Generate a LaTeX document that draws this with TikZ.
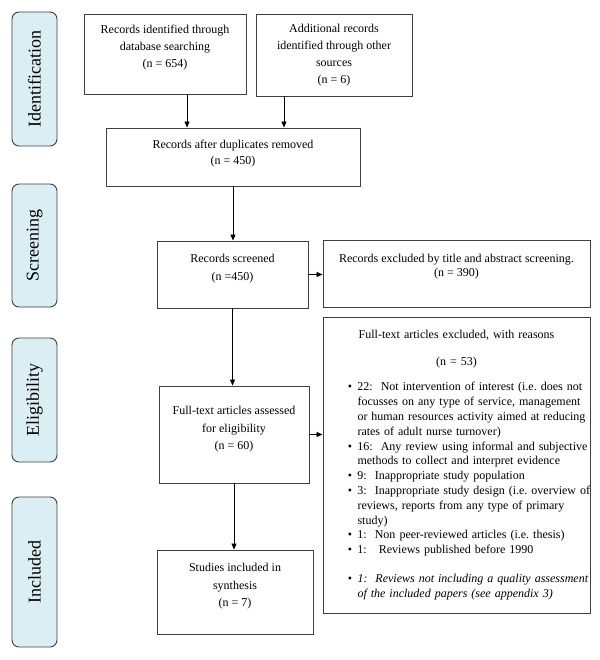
\documentclass[tikz,border=0pt]{standalone}
\usepackage{fontspec}
\setmainfont{Liberation Serif}
\usetikzlibrary{arrows.meta}
\definecolor{edgegray}{HTML}{3F3F3F}
\definecolor{sidefill}{HTML}{DBEEF4}
\newcommand\pbul{\leavevmode\llap{\textbullet\hspace{5.5bp}}}
\begin{document}
\begin{tikzpicture}[x=1bp,y=-1bp,
  box/.style={draw=edgegray, line width=0.9bp, align=center, inner sep=0pt, font=\fontsize{12bp}{17bp}\selectfont},
  side/.style={draw=edgegray, fill=sidefill, rounded corners=7bp, line width=0.9bp, rotate=90, inner sep=0pt, minimum height=45bp, font=\fontsize{18bp}{20bp}\selectfont},
  arr/.style={line width=0.8bp, -{Triangle[length=6bp,width=5bp]}}
]
\useasboundingbox (0,0) rectangle (600,660);
\path[fill=white] (0,0) rectangle (600,660);

% stage labels
\node[side, minimum width=134bp] (sid) at (34.5,79) {Identification};
\node[side, minimum width=123bp] (sscr) at (34.5,245.5) {Screening};
\node[side, minimum width=124bp] (selig) at (34.5,400) {Eligibility};
\node[side, minimum width=150bp] (sinc) at (34.5,572) {Included};

% boxes
\node[box, minimum width=162bp, minimum height=80bp, text depth=14.6bp] (db) at (165,54)
  {Records identified through\\database searching\\(n = 654)};
\node[box, minimum width=156bp, minimum height=82bp] (add) at (334,55)
  {Additional records\\identified through other\\sources\\(n = 6)};
\node[box, minimum width=254bp, minimum height=58bp, text depth=8.6bp, font=\fontsize{12bp}{16bp}\selectfont] (dup) at (233,157)
  {Records after duplicates removed\\(n = 450)};
\node[box, minimum width=151bp, minimum height=67bp, text depth=13.8bp, font=\fontsize{12bp}{18bp}\selectfont] (scr) at (232.5,274.5)
  {Records screened\\(n =450)};
\node[box, minimum width=267bp, minimum height=67bp, text depth=15.8bp, font=\fontsize{12bp}{14bp}\selectfont] (excl) at (456.5,273.5)
  {Records excluded by title and abstract screening.\\(n = 390)};
\node[box, minimum width=150bp, minimum height=97bp, text depth=12.8bp, font=\fontsize{12bp}{17.5bp}\selectfont] (ass) at (234,434.5)
  {Full-text articles assessed\\for eligibility\\(n = 60)};
\node[box, minimum width=156bp, minimum height=84bp, text depth=13.8bp, font=\fontsize{12bp}{17.5bp}\selectfont] (stu) at (235,592)
  {Studies included in\\synthesis\\(n = 7)};
\node[box, minimum width=267bp, minimum height=296bp, text width=267bp, align=left, font=\fontsize{12bp}{14.8bp}\selectfont] (fte) at (456.5,465) {%
{\centering Full-text articles excluded, with reasons\par}
\vspace{12.9bp}
{\centering (n = 53)\par}
\vspace{10.2bp}
{\leftskip=34.5bp \rightskip=-30bp plus 1fil
\pbul 22:\ \ Not intervention of interest (i.e.\ does not\par
focusses on any type of service, management\par
or human resources activity aimed at reducing\par
rates of adult nurse turnover)\par
\pbul 16:\ \ Any review using informal and subjective\par
methods to collect and interpret evidence\par
\pbul 9:\ \ Inappropriate study population\par
\pbul 3:\ \ Inappropriate study design (i.e.\ overview of\par
reviews, reports from any type of primary\par
study)\par
\pbul 1:\ \ Non peer-reviewed articles (i.e.\ thesis)\par
\pbul 1:\ \ \ Reviews published before 1990\par
\vspace{14.2bp}
\pbul\textit{1:\ \ Reviews not including a quality assessment}\par
\textit{of the included papers (see appendix 3)}\par}%
};

% connectors
\draw[arr] ([xshift=22bp]db.south) -- ([xshift=22bp]db.south |- dup.north);
\draw[arr] ([xshift=-50bp]add.south) -- ([xshift=-50bp]add.south |- dup.north);
\draw[arr] (dup.south) -- (dup.south |- scr.north);
\draw[arr] (scr.east) -- (scr.east -| excl.west);
\draw[arr] (scr.south) -- (scr.south |- ass.north);
\draw[arr] (ass.east) -- (ass.east -| fte.west);
\draw[arr] (ass.south) -- (ass.south |- stu.north);
\end{tikzpicture}
\end{document}
